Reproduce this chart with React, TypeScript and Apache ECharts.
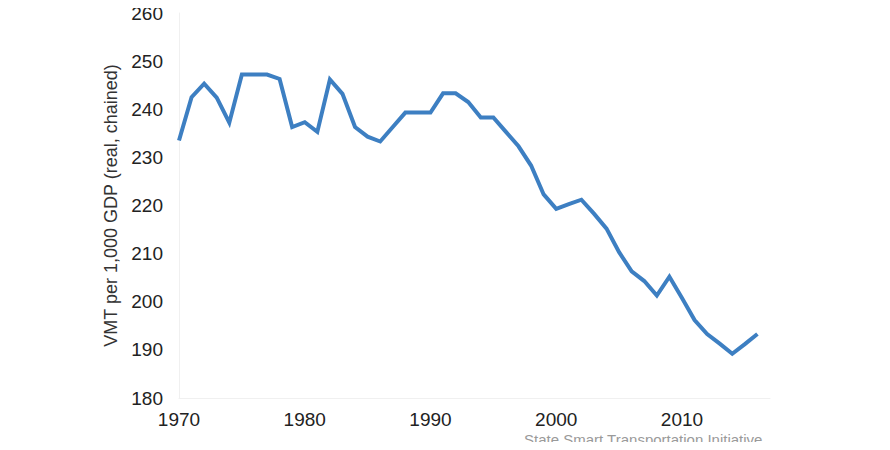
import React, { useEffect, useRef } from "react";
import * as echarts from "echarts";

const years = [
  1970, 1971, 1972, 1973, 1974, 1975, 1976, 1977, 1978, 1979,
  1980, 1981, 1982, 1983, 1984, 1985, 1986, 1987, 1988, 1989,
  1990, 1991, 1992, 1993, 1994, 1995, 1996, 1997, 1998, 1999,
  2000, 2001, 2002, 2003, 2004, 2005, 2006, 2007, 2008, 2009,
  2010, 2011, 2012, 2013, 2014, 2015, 2016,
];
const vmtPerGdp = [
  233.5, 242.5, 245.3, 242.4, 237.2, 247.2, 247.2, 247.2, 246.3, 236.3,
  237.3, 235.3, 246.2, 243.2, 236.3, 234.3, 233.3, 236.3, 239.3, 239.3,
  239.3, 243.3, 243.3, 241.5, 238.3, 238.3, 235.3, 232.3, 228.3, 222.3,
  219.3, 220.3, 221.2, 218.3, 215.2, 210.3, 206.3, 204.3, 201.3, 205.2,
  200.8, 196.2, 193.3, 191.3, 189.2, 191.2, 193.3,
];
const yTitle = "VMT per 1,000 GDP (real, chained)";
const sourceText = "State Smart Transportation Initiative";

export default function App() {
  const ref = useRef<HTMLDivElement>(null);
  useEffect(() => {
    if (!ref.current) return;
    const chart = echarts.init(ref.current, null, { renderer: "svg" });
    chart.setOption({
      animation: false,
      backgroundColor: "#ffffff",
      textStyle: { fontFamily: "Liberation Sans, Arial, sans-serif" },
      grid: { left: 179, right: 120, top: 13, bottom: 52, containLabel: false },
      xAxis: {
        type: "value",
        min: 1970,
        max: 2017,
        interval: 10,
        axisLine: { show: true, lineStyle: { color: "#f0f0f0", width: 1 } },
        axisTick: { show: false },
        splitLine: { show: false },
        axisLabel: {
          color: "#222222",
          fontSize: 19,
          margin: 12,
          showMaxLabel: false,
          formatter: (v: number) => String(v),
        },
      },
      yAxis: {
        type: "value",
        min: 180,
        max: 260,
        interval: 10,
        name: yTitle,
        nameLocation: "middle",
        nameGap: 50,
        nameTextStyle: { color: "#333333", fontSize: 18 },
        axisLine: { show: true, lineStyle: { color: "#f0f0f0", width: 1 } },
        axisTick: { show: false },
        splitLine: { show: false },
        axisLabel: { color: "#222222", fontSize: 19, margin: 16 },
      },
      graphic: [
        {
          type: "text",
          left: 524,
          top: 432,
          style: {
            text: sourceText,
            fill: "#9a9a9a",
            fontSize: 15,
            fontFamily: "Liberation Sans, Arial, sans-serif",
          },
        },
      ],
      series: [
        {
          type: "line",
          data: years.map((y, i) => [y, vmtPerGdp[i]]),
          showSymbol: false,
          symbol: "none",
          lineStyle: { color: "#3d7fc2", width: 4, join: "miter" },
          clip: false,
        },
      ],
    });
    return () => chart.dispose();
  }, []);
  return <div ref={ref} style={{ width: 890, height: 450, margin: -8 }} />;
}
